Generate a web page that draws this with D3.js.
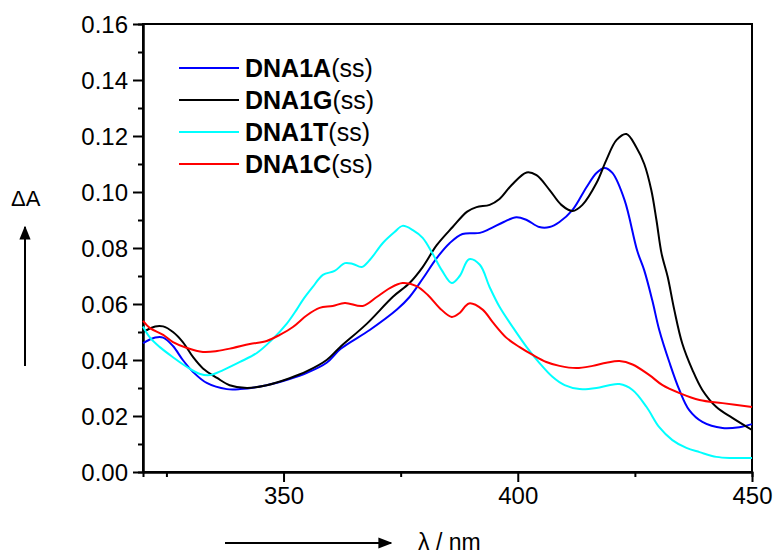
<!DOCTYPE html>
<html>
<head>
<meta charset="utf-8">
<script src="https://cdn.jsdelivr.net/npm/d3@7"></script>
<style>
  body { margin: 0; background: #fff; }
  text { font-family: Arial, "Liberation Sans", sans-serif; }
</style>
</head>
<body>
<div id="chart"></div>
<script>
// [wavelength nm, dA]
const dna1A = [[320,.046],[322.6,.048],[324.3,.048],[326.4,.045],[328.5,.040],[330.7,.0357],[333.6,.0318],[337.9,.0296],[340.7,.0296],[346.4,.031],[351.3,.0332],[355,.0354],[359.2,.039],[362.2,.044],[368.4,.0507],[374.2,.058],[376.9,.0625],[379.7,.069],[382.7,.0764],[385.5,.0818],[388.2,.085],[391.9,.0854],[394,.0868],[397,.0893],[399.7,.091],[401.9,.090],[404.6,.0875],[406.8,.0875],[408.9,.0893],[411.7,.0936],[414.7,.1018],[416.8,.1068],[418.5,.1086],[420.2,.1068],[422.8,.0971],[425.5,.079],[427,.072],[428.7,.0614],[430.2,.0507],[432.4,.039],[434.5,.0293],[436.6,.0221],[439.4,.0179],[443.7,.0157],[447.3,.016],[450,.0171]];
const dna1G = [[320,.050],[322.6,.052],[324.3,.052],[326.4,.050],[328.5,.0464],[330.7,.041],[332.8,.037],[335.8,.0336],[338.5,.031],[342.2,.030],[346.4,.031],[351.3,.0335],[355,.036],[359.2,.040],[362,.0445],[367.8,.053],[373.3,.0625],[376.9,.0675],[379.7,.0732],[382.7,.081],[386.1,.0875],[389.2,.093],[391.2,.0946],[394,.0954],[396.1,.0975],[398.7,.1025],[401.9,.107],[404,.106],[406.8,.1007],[409.3,.0954],[411.7,.0932],[413.8,.0954],[416.8,.1032],[418.9,.1114],[421.1,.1186],[423.2,.1207],[425.3,.116],[427,.110],[428.5,.1007],[429.6,.090],[430.7,.078],[432,.0697],[433.4,.058],[435.1,.046],[437.3,.0364],[439.4,.0293],[442.4,.0232],[445.8,.0193],[450,.015]];
const dna1T = [[320,.052],[321.5,.048],[323.6,.0446],[326.4,.041],[329.4,.0375],[332.2,.035],[334.3,.0346],[337.1,.0364],[340.7,.0393],[344.3,.0425],[347.4,.047],[350.7,.053],[352.8,.058],[354.1,.0614],[356.2,.066],[358.4,.0704],[360.9,.0718],[363.1,.0746],[364.8,.0743],[366.7,.0732],[368.4,.0757],[371.2,.0818],[373.7,.0857],[375.4,.0879],[377.6,.0864],[379.7,.0836],[381.8,.078],[383.8,.072],[385.9,.0675],[387.6,.070],[389.6,.076],[391.9,.074],[394,.066],[396.1,.059],[398.9,.0518],[401.9,.0446],[404.6,.039],[407.4,.034],[410,.031],[413.2,.0296],[416.8,.030],[419.5,.031],[421.7,.0314],[424.5,.0293],[427.5,.0232],[430.2,.016],[433,.0114],[436,.0086],[438.8,.0071],[442.4,.0054],[445.8,.005],[450,.005]];
const dna1C = [[320,.054],[321.5,.0514],[324.3,.049],[326.4,.0464],[329.4,.0443],[332.8,.0429],[335.8,.0432],[339.2,.0443],[342.8,.0457],[346.4,.0468],[349.2,.049],[352,.0518],[355,.056],[357.7,.0586],[360.5,.0593],[363.1,.0604],[366.9,.0593],[369.9,.0625],[372.7,.0657],[375.4,.0675],[378.4,.0664],[380.8,.0632],[383.3,.0586],[385.9,.0554],[387.6,.0568],[389.6,.0602],[392.5,.058],[394.6,.0536],[397.6,.0479],[400.4,.0446],[403.2,.0418],[406.1,.0393],[408.9,.0379],[412.5,.0371],[416,.0379],[418.9,.039],[421.7,.0396],[424.5,.0384],[428.1,.0346],[430.9,.031],[434.5,.0282],[438.8,.0257],[443.7,.0246],[450,.0232]];

const seriesNames = ["DNA1A", "DNA1G", "DNA1T", "DNA1C"];
const seriesData = [dna1A, dna1G, dna1T, dna1C];
const seriesColors = ["#0000ff", "#000000", "#00ffff", "#ff0000"];

const xMajor = [350, 400, 450];
const xMinor = [325, 375, 425];
const yMajor = [0, 0.02, 0.04, 0.06, 0.08, 0.10, 0.12, 0.14, 0.16];
const yMinor = [0.01, 0.03, 0.05, 0.07, 0.09, 0.11, 0.13, 0.15];

const W = 777, H = 555;
const margin = {top: 24, right: 25, bottom: 83, left: 143},
      width = W - margin.left - margin.right,
      height = H - margin.top - margin.bottom;

const root = d3.select("#chart").append("svg")
    .attr("width", W).attr("height", H);

const svg = root.append("g")
    .attr("transform", "translate(" + margin.left + "," + margin.top + ")");

const x = d3.scaleLinear().domain([320, 450]).range([0, width]);
const y = d3.scaleLinear().domain([0, 0.16]).range([height, 0]);

// minor ticks first
svg.append("g")
    .attr("transform", "translate(0," + height + ")")
    .call(d3.axisBottom(x).tickValues(xMinor).tickSize(5).tickFormat(""));
svg.append("g")
    .call(d3.axisLeft(y).tickValues(yMinor).tickSize(5).tickFormat(""));

const xAxis = svg.append("g")
    .attr("transform", "translate(0," + height + ")")
    .call(d3.axisBottom(x).tickValues(xMajor).tickSize(10).tickSizeOuter(0).tickPadding(5));
const yAxis = svg.append("g")
    .call(d3.axisLeft(y).tickValues(yMajor).tickSize(10).tickSizeOuter(0).tickPadding(5)
      .tickFormat(d3.format(".2f")));

svg.selectAll(".tick line, .domain").attr("stroke", "#000").attr("stroke-width", 2);
xAxis.selectAll("text").attr("font-size", 24).attr("fill", "#000")
    .attr("font-family", "Arial, 'Liberation Sans', sans-serif");
yAxis.selectAll("text").attr("font-size", 24).attr("fill", "#000")
    .attr("font-family", "Arial, 'Liberation Sans', sans-serif").attr("dy", "0.36em");

// frame
svg.append("rect")
    .attr("width", width).attr("height", height)
    .attr("fill", "none").attr("stroke", "#000").attr("stroke-width", 2);

const line = d3.line()
    .x(d => x(d[0]))
    .y(d => y(d[1]))
    .curve(d3.curveCatmullRom.alpha(0.5));

svg.append("g").selectAll("path")
    .data(seriesData)
    .join("path")
    .attr("fill", "none")
    .attr("stroke", (d, i) => seriesColors[i])
    .attr("stroke-width", 2)
    .attr("d", line);

// legend
const legend = root.append("g");
seriesNames.forEach((name, i) => {
  const ly = 68 + i * 32;
  legend.append("line")
      .attr("x1", 179).attr("x2", 239).attr("y1", ly).attr("y2", ly)
      .attr("stroke", seriesColors[i]).attr("stroke-width", 2);
  const t = legend.append("text")
      .attr("x", 245).attr("y", ly + 9)
      .attr("font-size", 25).attr("fill", "#000");
  t.append("tspan").attr("font-weight", "bold").text(name);
  t.append("tspan").text("(ss)");
});

// axis titles with arrows
const defs = root.append("defs");
defs.append("marker")
    .attr("id", "arr").attr("viewBox", "0 0 10 10")
    .attr("refX", 9).attr("refY", 5)
    .attr("markerWidth", 7).attr("markerHeight", 7)
    .attr("orient", "auto")
    .append("path").attr("d", "M0,1 L10,5 L0,9 Z").attr("fill", "#000");

root.append("line")
    .attr("x1", 25).attr("x2", 25).attr("y1", 366).attr("y2", 227)
    .attr("stroke", "#000").attr("stroke-width", 2).attr("marker-end", "url(#arr)");
root.append("text")
    .attr("x", 11).attr("y", 206)
    .attr("font-size", 22).attr("fill", "#000")
    .text("\u0394A");

root.append("line")
    .attr("x1", 225).attr("x2", 391).attr("y1", 543).attr("y2", 543)
    .attr("stroke", "#000").attr("stroke-width", 2).attr("marker-end", "url(#arr)");
root.append("text")
    .attr("x", 418).attr("y", 550)
    .attr("font-size", 23).attr("fill", "#000")
    .text("\u03bb / nm");
</script>
</body>
</html>
